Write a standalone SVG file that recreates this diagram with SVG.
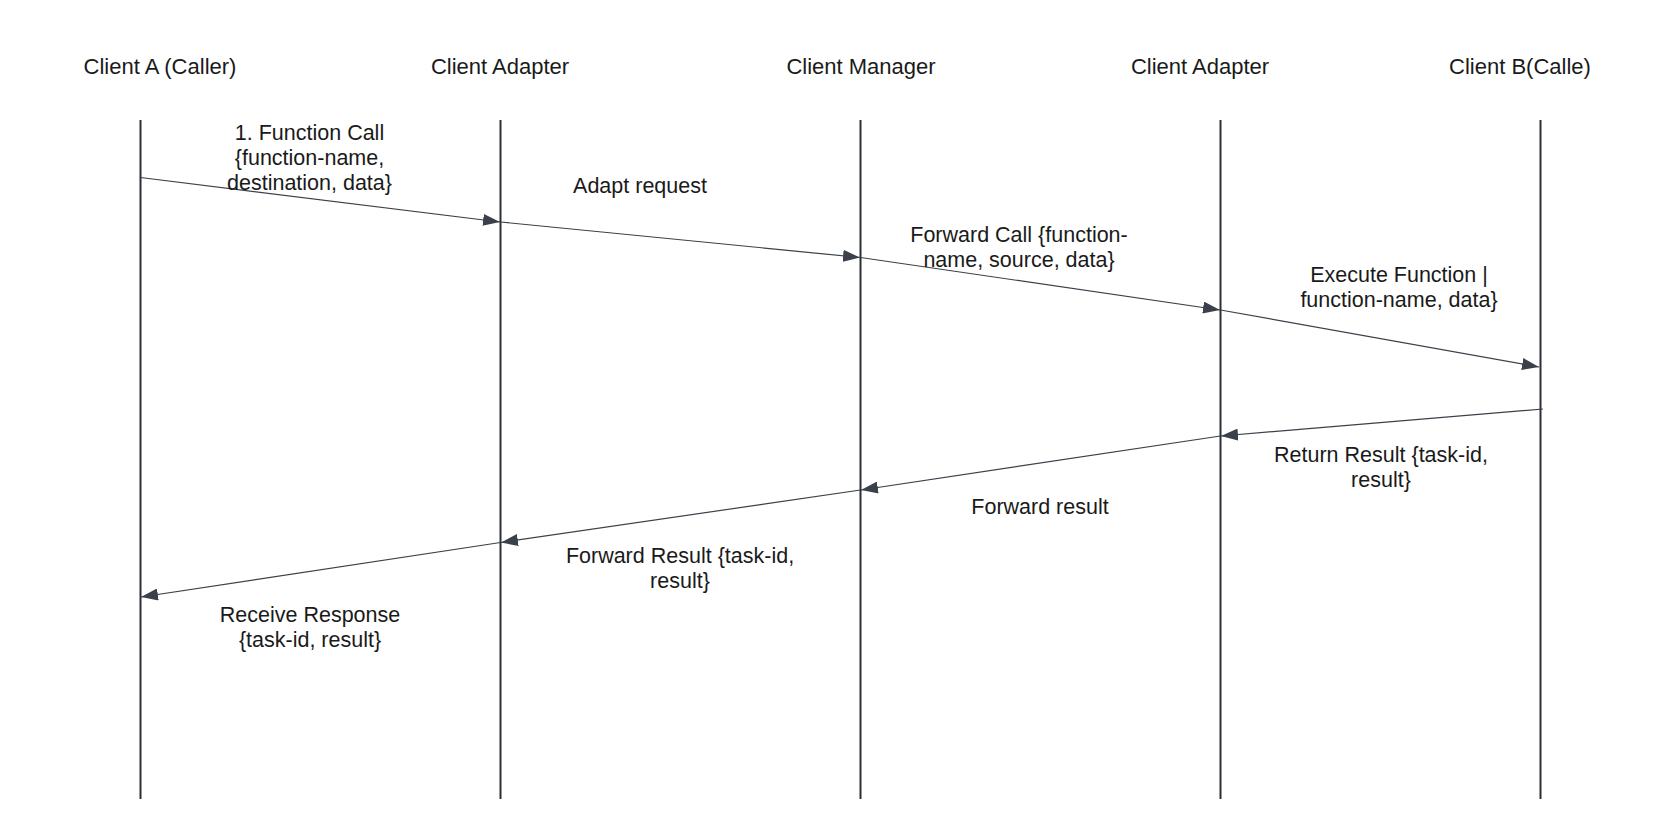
<svg xmlns="http://www.w3.org/2000/svg" width="1680" height="840" viewBox="0 0 1680 840">
<defs>
<style>
text{font-family:"Liberation Sans",Arial,sans-serif;fill:#1a1a1a;text-anchor:middle}
.hdr{font-size:22px}
.lbl{font-size:21.5px}
.life{stroke:#2b2f36;stroke-width:2;fill:none}
.msg{stroke:#3a414a;stroke-width:1.2;fill:none;marker-end:url(#ah)}
</style>
<marker id="ah" viewBox="0 0 17 12" refX="17" refY="6" markerWidth="17" markerHeight="12" markerUnits="userSpaceOnUse" orient="auto">
<path d="M0,0 L17,6 L0,12 Z" fill="#3a414a"/>
</marker>
</defs>
<rect width="1680" height="840" fill="#ffffff"/>
<g id="lifeline-clientA">
<text class="hdr" x="160" y="74">Client A (Caller)</text>
<line class="life" x1="140.5" y1="120" x2="140.5" y2="799"/>
</g>
<g id="lifeline-adapter1">
<text class="hdr" x="500" y="74">Client Adapter</text>
<line class="life" x1="500.5" y1="120" x2="500.5" y2="799"/>
</g>
<g id="lifeline-manager">
<text class="hdr" x="861" y="74">Client Manager</text>
<line class="life" x1="860.5" y1="120" x2="860.5" y2="799"/>
</g>
<g id="lifeline-adapter2">
<text class="hdr" x="1200" y="74">Client Adapter</text>
<line class="life" x1="1220.5" y1="120" x2="1220.5" y2="799"/>
</g>
<g id="lifeline-clientB">
<text class="hdr" x="1520" y="74">Client B(Calle)</text>
<line class="life" x1="1540.5" y1="120" x2="1540.5" y2="799"/>
</g>
<g id="connectors">
<line class="msg" x1="140.5" y1="177.5" x2="500" y2="222"/>
<line class="msg" x1="500.5" y1="222" x2="860" y2="257.5"/>
<line class="msg" x1="860.5" y1="257.5" x2="1220" y2="310"/>
<line class="msg" x1="1220.5" y1="310" x2="1539" y2="367"/>
<line class="msg" x1="1543" y1="409" x2="1221" y2="436"/>
<line class="msg" x1="1220.5" y1="436" x2="861" y2="490"/>
<line class="msg" x1="860.5" y1="490" x2="501" y2="542.5"/>
<line class="msg" x1="500.5" y1="542.5" x2="141" y2="597"/>
</g>
<g id="labels">
<text class="lbl" x="309.5" y="140">1. Function Call</text>
<text class="lbl" x="309.5" y="165">{function-name,</text>
<text class="lbl" x="309.5" y="190">destination, data}</text>
<text class="lbl" x="640" y="193">Adapt request</text>
<text class="lbl" x="1019" y="242">Forward Call {function-</text>
<text class="lbl" x="1019" y="267">name, source, data}</text>
<text class="lbl" x="1399" y="281.5">Execute Function |</text>
<text class="lbl" x="1399" y="307">function-name, data}</text>
<text class="lbl" x="1381" y="461.5">Return Result {task-id,</text>
<text class="lbl" x="1381" y="487">result}</text>
<text class="lbl" x="1040" y="514">Forward result</text>
<text class="lbl" x="680" y="563">Forward Result {task-id,</text>
<text class="lbl" x="680" y="588">result}</text>
<text class="lbl" x="310" y="622">Receive Response</text>
<text class="lbl" x="310" y="647">{task-id, result}</text>
</g>
</svg>
